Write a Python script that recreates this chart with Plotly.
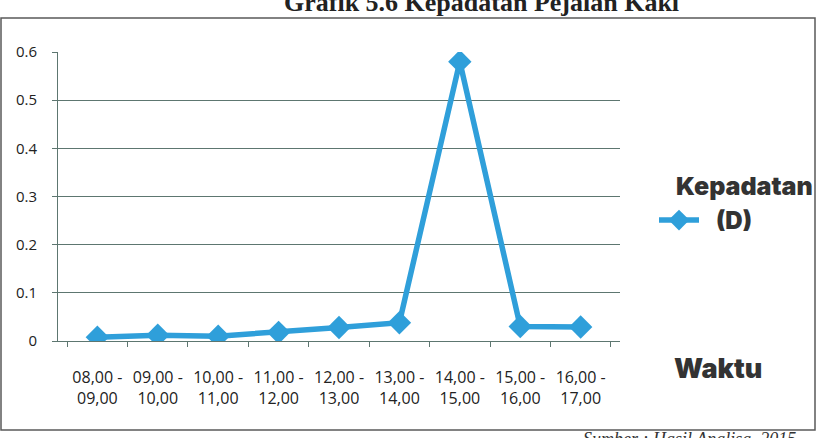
import plotly.graph_objects as go

# Pedestrian density per one-hour interval
waktu = ["08,00 -<br>09,00", "09,00 -<br>10,00", "10,00 -<br>11,00", "11,00 -<br>12,00",
         "12,00 -<br>13,00", "13,00 -<br>14,00", "14,00 -<br>15,00", "15,00 -<br>16,00",
         "16,00 -<br>17,00"]
kepadatan = [0.008, 0.012, 0.010, 0.018, 0.028, 0.038, 0.580, 0.030, 0.029]
y_ticks = [0, 0.1, 0.2, 0.3, 0.4, 0.5, 0.6]
y_labels = ["0", "0.1", "0.2", "0.3", "0.4", "0.5", "0.6"]

W, H = 819, 438
L, R, T, B = 58, 620, 52, 341  # plot area in pixels


def px(x):
    return (x - L) / (R - L)


def py(y):
    return (B - y) / (B - T)


blue = "#2F9FDA"
grid = "#5d7670"
heavy = "Inter, DejaVu Sans, sans-serif"

fig = go.Figure()
fig.add_trace(go.Scatter(
    x=waktu, y=kepadatan, mode="lines+markers", name="\u2002(D)",
    line=dict(color=blue, width=5.5),
    marker=dict(symbol="diamond", size=18, color=blue),
))

fig.update_layout(
    width=W, height=H,
    margin=dict(l=L, r=W - R, t=T, b=H - B, autoexpand=False),
    paper_bgcolor="white", plot_bgcolor="white",
    font=dict(family="Open Sans, sans-serif", color="#222"),
    showlegend=True,
    legend=dict(
        x=px(654), y=py(198), xanchor="left", yanchor="top",
        font=dict(family=heavy, size=24, color="#333", weight=900),
        itemwidth=40, bgcolor="rgba(0,0,0,0)",
    ),
    xaxis=dict(
        showgrid=False, showline=True, linecolor=grid, linewidth=1,
        ticks="outside", ticklen=5, tickcolor=grid, tickson="boundaries",
        tickfont=dict(size=16, color="#222"), ticklabelstandoff=22,
        tickangle=0, automargin=False,
    ),
    yaxis=dict(
        range=[0, 0.6], tickvals=y_ticks, ticktext=y_labels,
        showgrid=True, gridcolor=grid, gridwidth=1,
        showline=True, linecolor=grid, linewidth=1,
        ticks="outside", ticklen=5, tickcolor=grid,
        tickfont=dict(size=15, color="#222"), zeroline=False,
        ticklabelstandoff=12, automargin=False,
    ),
)

# outer frame
fig.add_shape(type="rect", xref="paper", yref="paper",
              x0=px(1), x1=px(815), y0=py(430), y1=py(18),
              line=dict(color="#5a5a5a", width=1.5))

fig.add_annotation(text="Kepadatan", xref="paper", yref="paper",
                   x=px(744), y=py(186), xanchor="center", yanchor="middle", showarrow=False,
                   font=dict(family=heavy, size=25, color="#333", weight=900))
fig.add_annotation(text="Grafik 5.6 Kepadatan Pejalan Kaki", xref="paper", yref="paper",
                   x=px(481), y=py(2), xanchor="center", yanchor="middle", showarrow=False,
                   font=dict(family="Liberation Serif, serif", size=26, color="#222", weight="bold"))
fig.add_annotation(text="Waktu", xref="paper", yref="paper",
                   x=px(718), y=py(368), xanchor="center", yanchor="middle", showarrow=False,
                   font=dict(family=heavy, size=27, color="#333", weight=900))
fig.add_annotation(text="<i>Sumber : Hasil Analisa, 2015</i>", xref="paper", yref="paper",
                   x=px(798), y=py(439), xanchor="right", yanchor="middle", showarrow=False,
                   font=dict(family="Liberation Serif, serif", size=18, color="#333"))

fig.write_html("out.html")
